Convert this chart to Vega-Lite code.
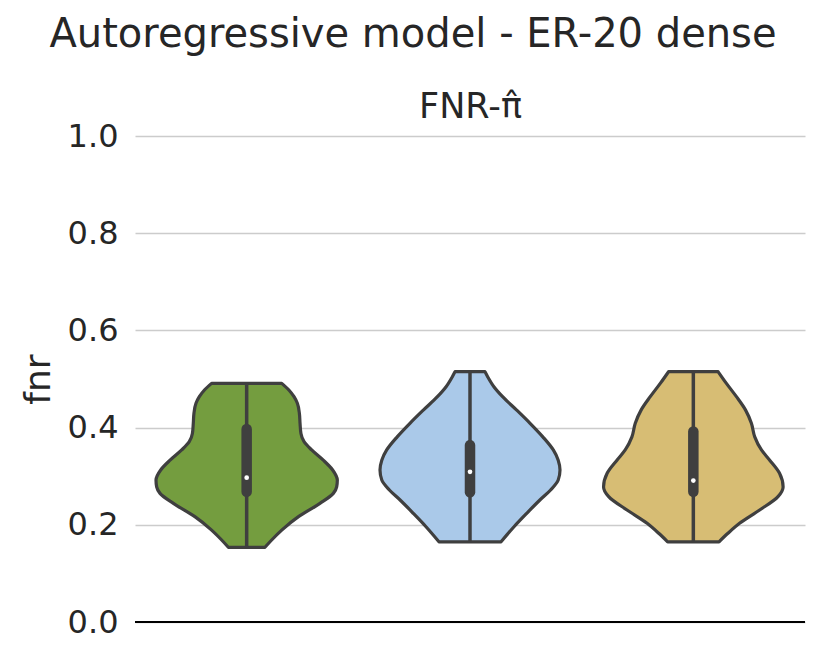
{
  "$schema": "https://vega.github.io/schema/vega-lite/v6.json",
  "autosize": {"type": "pad"},
  "padding": {"left": 20, "top": 15, "right": 25, "bottom": 5},
  "background": "white",
  "config": {"font": "DejaVu Sans", "view": {"stroke": null}},
  "title": {"text": "Autoregressive model - ER-20 dense", "fontSize": 40, "fontWeight": "normal", "color": "#262626", "anchor": "middle", "frame": "bounds", "offset": 34},
  "width": 670,
  "height": 486,
  "data": {"values": [
    {"g": "m1", "fnr": 0.1537, "w": 0.082},
    {"g": "m1", "fnr": 0.1687, "w": 0.112},
    {"g": "m1", "fnr": 0.189, "w": 0.157},
    {"g": "m1", "fnr": 0.2167, "w": 0.232},
    {"g": "m1", "fnr": 0.244, "w": 0.328},
    {"g": "m1", "fnr": 0.2647, "w": 0.388},
    {"g": "m1", "fnr": 0.278, "w": 0.403},
    {"g": "m1", "fnr": 0.292, "w": 0.406},
    {"g": "m1", "fnr": 0.3128, "w": 0.385},
    {"g": "m1", "fnr": 0.333, "w": 0.343},
    {"g": "m1", "fnr": 0.354, "w": 0.291},
    {"g": "m1", "fnr": 0.371, "w": 0.257},
    {"g": "m1", "fnr": 0.388, "w": 0.243},
    {"g": "m1", "fnr": 0.4088, "w": 0.239},
    {"g": "m1", "fnr": 0.4294, "w": 0.236},
    {"g": "m1", "fnr": 0.45, "w": 0.227},
    {"g": "m1", "fnr": 0.4636, "w": 0.212},
    {"g": "m1", "fnr": 0.4774, "w": 0.189},
    {"g": "m1", "fnr": 0.491, "w": 0.157},
    {"g": "m2", "fnr": 0.165, "w": 0.139},
    {"g": "m2", "fnr": 0.196, "w": 0.197},
    {"g": "m2", "fnr": 0.2236, "w": 0.254},
    {"g": "m2", "fnr": 0.251, "w": 0.313},
    {"g": "m2", "fnr": 0.2716, "w": 0.361},
    {"g": "m2", "fnr": 0.292, "w": 0.395},
    {"g": "m2", "fnr": 0.3128, "w": 0.403},
    {"g": "m2", "fnr": 0.333, "w": 0.395},
    {"g": "m2", "fnr": 0.354, "w": 0.373},
    {"g": "m2", "fnr": 0.381, "w": 0.326},
    {"g": "m2", "fnr": 0.4088, "w": 0.269},
    {"g": "m2", "fnr": 0.436, "w": 0.209},
    {"g": "m2", "fnr": 0.4636, "w": 0.146},
    {"g": "m2", "fnr": 0.4842, "w": 0.107},
    {"g": "m2", "fnr": 0.5048, "w": 0.079},
    {"g": "m2", "fnr": 0.515, "w": 0.067},
    {"g": "m3", "fnr": 0.165, "w": 0.115},
    {"g": "m3", "fnr": 0.1825, "w": 0.155},
    {"g": "m3", "fnr": 0.203, "w": 0.207},
    {"g": "m3", "fnr": 0.2305, "w": 0.297},
    {"g": "m3", "fnr": 0.258, "w": 0.379},
    {"g": "m3", "fnr": 0.278, "w": 0.402},
    {"g": "m3", "fnr": 0.306, "w": 0.386},
    {"g": "m3", "fnr": 0.333, "w": 0.342},
    {"g": "m3", "fnr": 0.354, "w": 0.305},
    {"g": "m3", "fnr": 0.381, "w": 0.275},
    {"g": "m3", "fnr": 0.4088, "w": 0.26},
    {"g": "m3", "fnr": 0.436, "w": 0.234},
    {"g": "m3", "fnr": 0.4636, "w": 0.193},
    {"g": "m3", "fnr": 0.491, "w": 0.148},
    {"g": "m3", "fnr": 0.515, "w": 0.111},
    {"g": "m1", "min": 0.1537, "q1": 0.268, "med": 0.297, "q3": 0.397, "max": 0.491},
    {"g": "m2", "min": 0.165, "q1": 0.267, "med": 0.309, "q3": 0.364, "max": 0.515},
    {"g": "m3", "min": 0.165, "q1": 0.268, "med": 0.291, "q3": 0.392, "max": 0.515}
  ]},
  "transform": [
    {"calculate": "indexof(['m1','m2','m3'], datum.g)", "as": "c"},
    {"calculate": "datum.c + datum.w", "as": "xr"},
    {"calculate": "datum.c - datum.w", "as": "xl"}
  ],
  "layer": [
    {
      "transform": [{"filter": "isValid(datum.w)"}],
      "mark": {"type": "area", "orient": "horizontal", "interpolate": "monotone", "stroke": "#3f3f3f", "strokeWidth": 3.2, "strokeJoin": "round", "fillOpacity": 1},
      "encoding": {
        "y": {"field": "fnr", "type": "quantitative", "title": "fnr", "scale": {"domain": [0, 1], "nice": false},
          "axis": {"values": [0, 0.2, 0.4, 0.6, 0.8, 1.0], "format": ".1f", "ticks": false, "domain": false, "labelFontSize": 32, "labelColor": "#262626", "labelPadding": 17, "titleFontSize": 36, "titleFontWeight": "normal", "titleColor": "#262626", "titlePadding": 10, "gridColor": "#cccccc", "gridWidth": 1.3}},
        "x": {"field": "xr", "type": "quantitative", "title": "FNR-π̂", "scale": {"domain": [-0.5, 2.5], "nice": false, "zero": false},
          "axis": {"orient": "top", "labels": false, "ticks": false, "domain": false, "grid": false, "titleFontSize": 35, "titleFontWeight": "normal", "titleColor": "#262626", "titlePadding": 12}},
        "x2": {"field": "xl"},
        "fill": {"field": "g", "type": "nominal", "scale": {"domain": ["m1", "m2", "m3"], "range": ["#749d3f", "#aac9e9", "#d7bd74"]}, "legend": null},
        "detail": {"field": "g"}
      }
    },
    {
      "transform": [{"filter": "isValid(datum.med)"}],
      "mark": {"type": "rule", "color": "#3f3f3f", "strokeWidth": 3.5},
      "encoding": {
        "x": {"field": "c", "type": "quantitative", "title": "FNR-π̂"},
        "y": {"field": "min", "type": "quantitative", "title": "fnr"},
        "y2": {"field": "max"}
      }
    },
    {
      "transform": [{"filter": "isValid(datum.med)"}],
      "mark": {"type": "rule", "color": "#3f3f3f", "strokeWidth": 10.5, "strokeCap": "round"},
      "encoding": {
        "x": {"field": "c", "type": "quantitative", "title": "FNR-π̂"},
        "y": {"field": "q1", "type": "quantitative", "title": "fnr"},
        "y2": {"field": "q3"}
      }
    },
    {
      "transform": [{"filter": "isValid(datum.med)"}],
      "mark": {"type": "point", "shape": "circle", "filled": true, "color": "white", "opacity": 1, "size": 22},
      "encoding": {
        "x": {"field": "c", "type": "quantitative", "title": "FNR-π̂"},
        "y": {"field": "med", "type": "quantitative", "title": "fnr"}
      }
    },
    {
      "mark": {"type": "rule", "color": "#000000", "strokeWidth": 1.8},
      "encoding": {"y": {"datum": 0}}
    }
  ]
}
